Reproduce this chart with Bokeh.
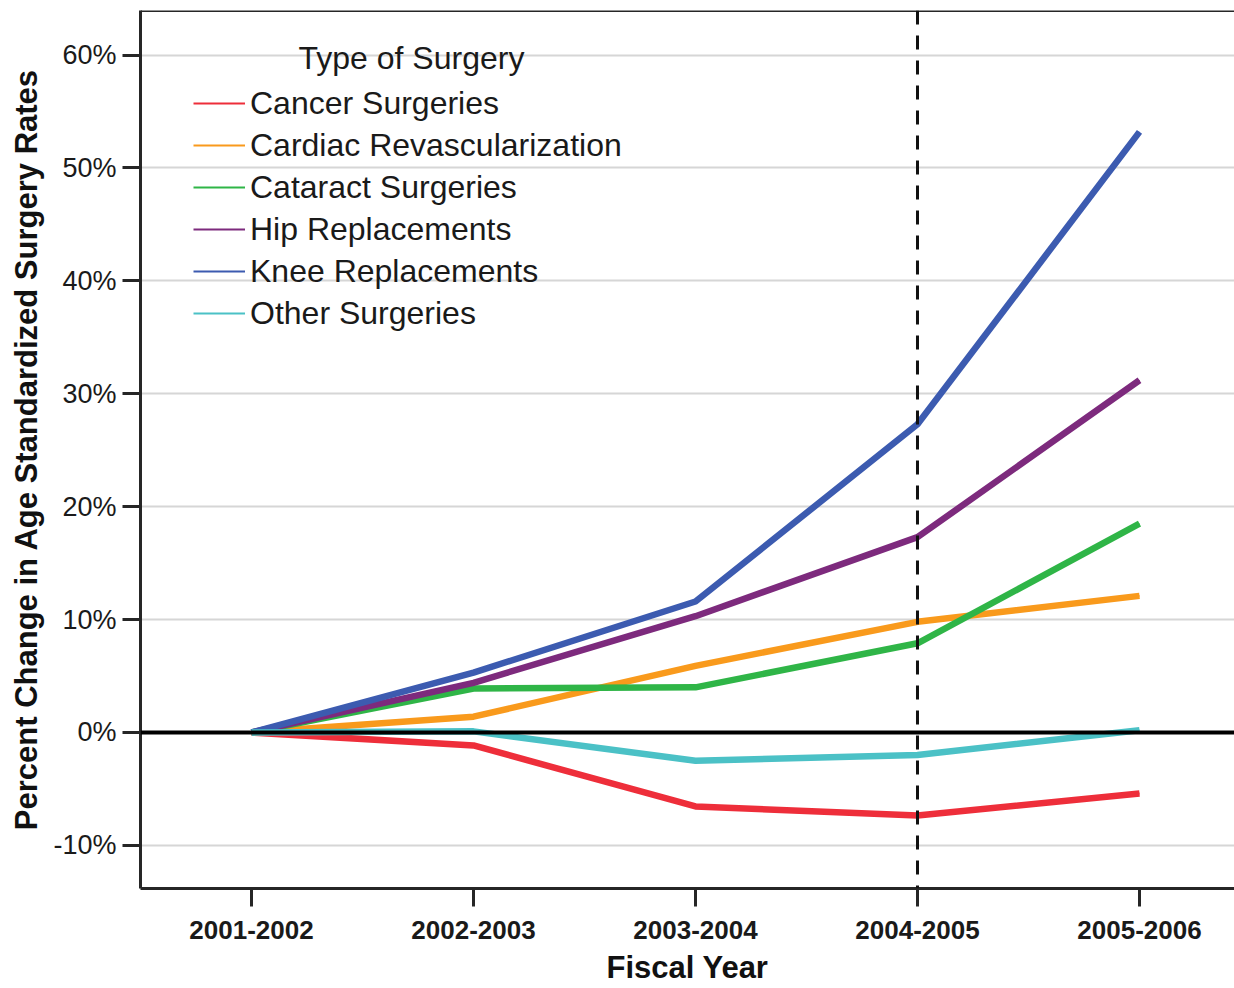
from bokeh.plotting import figure
from bokeh.models import (FixedTicker, PrintfTickFormatter, Span, Legend, LegendItem, Label)
from bokeh.embed import file_html
from bokeh.resources import INLINE

years = ["2001-2002", "2002-2003", "2003-2004", "2004-2005", "2005-2006"]
series_names = ["Cancer Surgeries", "Cardiac Revascularization", "Cataract Surgeries",
                "Hip Replacements", "Knee Replacements", "Other Surgeries"]
cancer = [0.0, -1.15, -6.55, -7.35, -5.4]
cardiac = [0.0, 1.4, 5.9, 9.8, 12.1]
cataract = [0.0, 3.9, 4.0, 7.9, 18.5]
hip = [0.0, 4.4, 10.3, 17.3, 31.2]
knee = [0.0, 5.3, 11.6, 27.3, 53.2]
other = [0.0, 0.1, -2.5, -2.0, 0.2]
colors = ["#ee2e3a", "#f99a1c", "#2fb547", "#7d2a7d", "#3c5bb0", "#4bc1c6"]
y_ticks = [-10, 0, 10, 20, 30, 40, 50, 60]
marker_year = "2004-2005"

FONT = "Liberation Sans"
xs = list(range(len(years)))

p = figure(width=1234, height=988, output_backend="svg", toolbar_location=None,
           x_range=(-0.5, 4.428), y_range=(-13.82, 63.95),
           min_border_left=140, min_border_top=10, min_border_right=0, min_border_bottom=100)
p.outline_line_color = None
p.background_fill_color = "white"
p.border_fill_color = "white"

for ax in (p.xaxis[0], p.yaxis[0]):
    ax.axis_line_color = "#262626"
    ax.axis_line_width = 3
    ax.major_tick_line_color = "#262626"
    ax.major_tick_line_width = 3
    ax.major_tick_out = 18
    ax.major_tick_in = 0
    ax.minor_tick_line_color = None
    ax.major_label_text_font = FONT
    ax.major_label_text_color = "#1a1a1a"
    ax.axis_label_text_font = FONT
    ax.axis_label_text_font_style = "bold"
    ax.axis_label_text_font_size = "31px"
    ax.axis_label_text_color = "#111111"

p.xaxis.ticker = FixedTicker(ticks=xs)
p.xaxis.major_label_overrides = {i: y for i, y in enumerate(years)}
p.xaxis.major_label_text_font_size = "26px"
p.xaxis.major_label_text_font_style = "bold"
p.xaxis.major_label_standoff = 14
p.xaxis.axis_label = "Fiscal Year"
p.xaxis.axis_label_standoff = 8

p.yaxis.ticker = FixedTicker(ticks=y_ticks)
p.yaxis.formatter = PrintfTickFormatter(format="%d%%")
p.yaxis.major_label_text_font_size = "27px"
p.yaxis.major_label_standoff = 6
p.yaxis.axis_label = "Percent Change in Age Standardized Surgery Rates"
p.yaxis.axis_label_standoff = 6

p.xgrid.grid_line_color = None
p.ygrid.ticker = FixedTicker(ticks=y_ticks)
p.ygrid.grid_line_color = "#d6d6d6"
p.ygrid.grid_line_width = 2

p.add_layout(Span(location=63.95, dimension="width", line_color="#262626", line_width=3))
p.add_layout(Span(location=0, dimension="width", line_color="#000000", line_width=4))

series = [cancer, cardiac, cataract, hip, knee, other]
items = []
for name, vals, c in zip(series_names, series, colors):
    thin = p.line(xs, vals, line_color=c, line_width=2)
    items.append(LegendItem(label=name, renderers=[thin]))
for vals, c in zip(series, colors):
    p.line(xs, vals, line_color=c, line_width=6.5, line_join="round")

p.add_layout(Span(location=years.index(marker_year), dimension="height",
                  line_color="#111111", line_width=3, line_dash="14 11"))

legend = Legend(items=items, location=(53, 554), padding=0, margin=0, spacing=0,
                border_line_color=None, background_fill_alpha=0,
                label_text_font=FONT, label_text_font_size="32px",
                label_text_color="#1a1a1a", label_standoff=5,
                glyph_width=52, glyph_height=42, label_height=42)
p.add_layout(legend)
p.add_layout(Label(x=0.2117, y=59.7, text="Type of Surgery", text_font=FONT,
                   text_font_size="32px", text_color="#1a1a1a", text_baseline="middle"))

open("out.html", "w").write(file_html(p, INLINE))
